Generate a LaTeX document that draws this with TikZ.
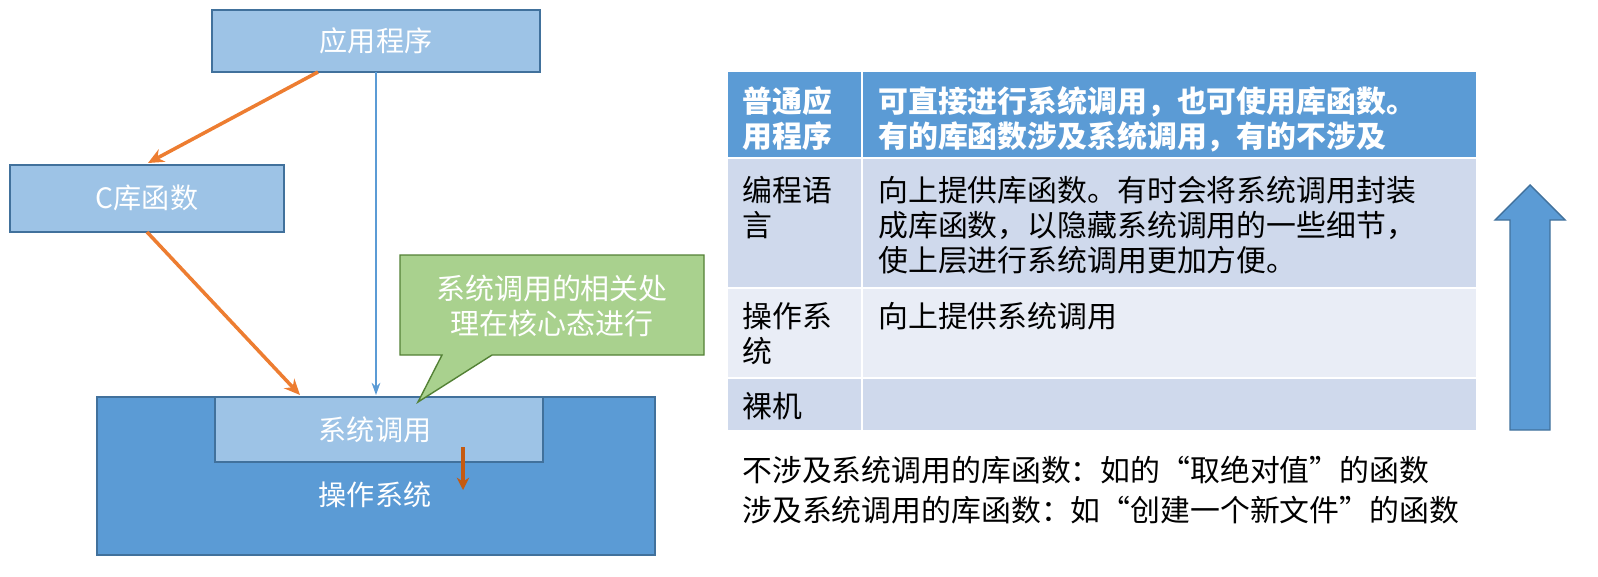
\documentclass[tikz,border=0pt]{standalone}
\usepackage{fontspec}
\setmainfont{Noto Sans CJK SC}
\usetikzlibrary{arrows.meta}
\definecolor{lb}{HTML}{9DC3E6}
\definecolor{mb}{HTML}{5B9BD5}
\definecolor{bd}{HTML}{41719C}
\definecolor{gr}{HTML}{A9D18E}
\definecolor{gbd}{HTML}{538135}
\definecolor{orng}{HTML}{ED7D31}
\definecolor{brn}{HTML}{C55A11}
\definecolor{r1}{HTML}{CFD9EC}
\definecolor{r2}{HTML}{E9EDF6}
\begin{document}
\begin{tikzpicture}[x=0.02cm,y=-0.02cm,
  bx/.style={draw=bd,line width=0.8pt,fill=lb},
  wt/.style={text=white,font=\fontsize{16}{19}\selectfont},
  cell/.style={anchor=north west,align=left,font=\fontsize{17}{20}\selectfont,inner sep=0pt},
  oarr/.style={orng,line width=2pt,-{Stealth[length=9pt,width=8pt]}}]
\useasboundingbox (0,0) rectangle (1598,576);
% left diagram
\fill[mb] (97,397) rectangle (655,555);
\draw[bd,line width=0.8pt] (97,397) rectangle (655,555);
\node[wt] (os) at (375,495) {操作系统};
\draw[bx] (215,397) rectangle (543,462);
\node[wt] (sc) at (375,430) {系统调用};
\coordinate (scT) at (376,395);
\draw[bx] (212,10) rectangle (540,72);
\node[wt] (app) at (376,41) {应用程序};
\draw[bx] (10,165) rectangle (284,232);
\node[wt] (clib) at (147,198) {C库函数};
\coordinate (appB) at (318,72);
\coordinate (appC) at (376,72);
\coordinate (clT) at (148,163);
\coordinate (clB) at (147,232);
\coordinate (scL) at (300,395);
\draw[oarr] (appB) -- (clT);
\draw[oarr] (clB) -- (scL);
\draw[mb,line width=0.8pt,-{Stealth[length=7pt,width=5pt]}] (appC) -- (scT);
\coordinate (ba) at (463,447);
\coordinate (bb) at (463,490);
\draw[brn,line width=2pt,-{Stealth[length=7pt,width=7pt]}] (ba) -- (bb);
% callout
\draw[gbd,fill=gr,line width=0.8pt] (400,255) -- (704,255) -- (704,355) -- (492,355) -- (418,402) -- (442,355) -- (400,355) -- cycle;
\node[text=white,font=\fontsize{16.5}{20}\selectfont,align=center] (call) at (552,306) {系统调用的相关处\\理在核心态进行};
% table
\fill[mb] (728,72) rectangle (1476,158);
\fill[r1] (728,158) rectangle (1476,288);
\fill[r2] (728,288) rectangle (1476,378);
\fill[r1] (728,378) rectangle (1476,430);
\draw[white,line width=1.5pt] (728,158) -- (1476,158) (728,288) -- (1476,288) (728,378) -- (1476,378) (862,72) -- (862,430);
\node[cell,text=white,font=\bfseries\fontsize{17}{20}\selectfont] (h1) at (742,86) {普通应\\用程序};
\node[cell,text=white,font=\bfseries\fontsize{17}{20}\selectfont] (h2) at (878,86) {可直接进行系统调用，也可使用库函数。\\有的库函数涉及系统调用，有的不涉及};
\node[cell] (a1) at (742,176) {编程语\\言};
\node[cell] (a2) at (878,176) {向上提供库函数。有时会将系统调用封装\\成库函数，以隐藏系统调用的一些细节，\\使上层进行系统调用更加方便。};
\node[cell] (b1) at (742,302) {操作系\\统};
\node[cell] (b2) at (878,302) {向上提供系统调用};
\node[cell] (c1) at (742,392) {裸机};
% big arrow
\draw[bd,fill=mb,line width=0.8pt] (1510,430) -- (1550,430) -- (1550,220) -- (1565,220) -- (1530,185) -- (1495,220) -- (1510,220) -- cycle;
% bottom text
\node[cell] (t1) at (742,456) {不涉及系统调用的库函数：如的“取绝对值”的函数};
\node[cell] (t2) at (742,496) {涉及系统调用的库函数：如“创建一个新文件”的函数};
\end{tikzpicture}
\end{document}
